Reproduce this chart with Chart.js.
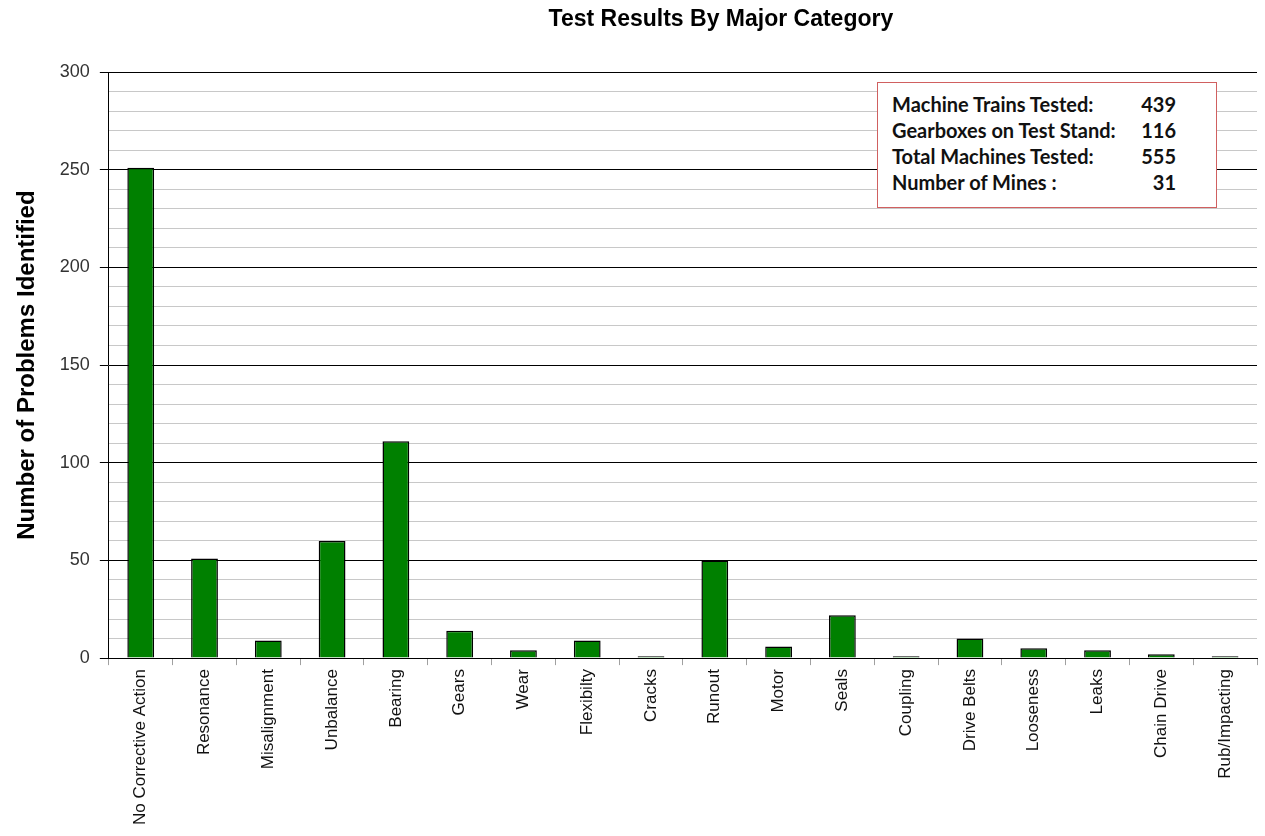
<!DOCTYPE html>
<html>
<head>
<meta charset="utf-8">
<script src="https://cdn.jsdelivr.net/npm/chart.js@4"></script>
<style>
  html, body { margin: 0; padding: 0; background: #fff; }
  #wrap { position: relative; width: 1265px; height: 836px; }
  #info {
    position: absolute; left: 877px; top: 82px; width: 340px; height: 126px;
    border: 1px solid #d06060; background: #fff; box-sizing: border-box;
    font: bold 20px Lato, "Open Sans", sans-serif; color: #111;
    padding: 8px 0 0 14px;
  }
  #info .row { display: flex; height: 26px; line-height: 26px; }
  #info .lbl { width: 236px; }
  #info .val { width: 48px; text-align: right; }
</style>
</head>
<body>
<div id="wrap">
  <canvas id="c" width="1265" height="836"></canvas>
  <div id="info"></div>
</div>
<script>
// --- data ---
const categories = ['No Corrective Action', 'Resonance', 'Misalignment', 'Unbalance', 'Bearing', 'Gears',
  'Wear', 'Flexibilty', 'Cracks', 'Runout', 'Motor', 'Seals', 'Coupling', 'Drive Belts', 'Looseness',
  'Leaks', 'Chain Drive', 'Rub/Impacting'];
const problems = [251, 51, 9, 60, 111, 14, 4, 9, 1, 50, 6, 22, 1, 10, 5, 4, 2, 1];
const infoLabels = ['Machine Trains Tested:', 'Gearboxes on Test Stand:', 'Total Machines Tested:', 'Number of Mines :'];
const infoValues = [439, 116, 555, 31];

// info box
document.getElementById('info').innerHTML = infoLabels.map((l, i) =>
  `<div class="row"><span class="lbl">${l}</span><span class="val">${infoValues[i]}</span></div>`).join('');

// title drawn a bit right of the plot centre, like the original
const titlePlugin = {
  id: 'offsetTitle',
  afterDraw(chart) {
    const { ctx, chartArea } = chart;
    ctx.save();
    ctx.font = 'bold 23px "Liberation Sans", Arial, sans-serif';
    ctx.fillStyle = '#000';
    ctx.textAlign = 'center';
    ctx.textBaseline = 'middle';
    ctx.fillText('Test Results By Major Category', (chartArea.left + chartArea.right) / 2 + 38, 20);
    ctx.restore();
  }
};

const FONT = '"Liberation Sans", Arial, sans-serif';

new Chart(document.getElementById('c'), {
  type: 'bar',
  data: {
    labels: categories,
    datasets: [{
      data: problems,
      backgroundColor: '#008000',
      borderColor: '#000',
      borderWidth: 1.5,
      barPercentage: 0.42,
      categoryPercentage: 1
    }]
  },
  options: {
    responsive: false,
    animation: false,
    layout: { padding: { top: 72, right: 8, left: 13, bottom: 7 } },
    plugins: { legend: { display: false }, tooltip: { enabled: false } },
    scales: {
      x: {
        offset: true,
        grid: {
          offset: true,
          color: c => c.index === categories.length ? '#a0a0a0' : 'rgba(0,0,0,0)',
          tickColor: '#a0a0a0',
          tickLength: 7
        },
        border: { color: '#000' },
        ticks: {
          minRotation: 90, maxRotation: 90, autoSkip: false,
          color: '#111', font: { family: FONT, size: 17 }, padding: 4
        }
      },
      y: {
        min: 0, max: 300,
        grid: {
          color: c => c.tick.value % 50 === 0 ? '#000' : '#c8c8c8',
          tickColor: c => c.tick.value % 50 === 0 ? '#000' : 'rgba(0,0,0,0)',
          tickLength: 9
        },
        border: { color: '#000' },
        ticks: {
          stepSize: 10,
          autoSkip: false,
          callback: v => v % 50 === 0 ? v : '',
          color: '#333', font: { family: FONT, size: 18 }, padding: 10
        },
        title: {
          display: true, text: 'Number of Problems Identified', color: '#000',
          font: { family: FONT, size: 24, weight: 'bold' }, padding: { top: 0, bottom: 8 }
        }
      }
    }
  },
  plugins: [titlePlugin]
});
</script>
</body>
</html>
